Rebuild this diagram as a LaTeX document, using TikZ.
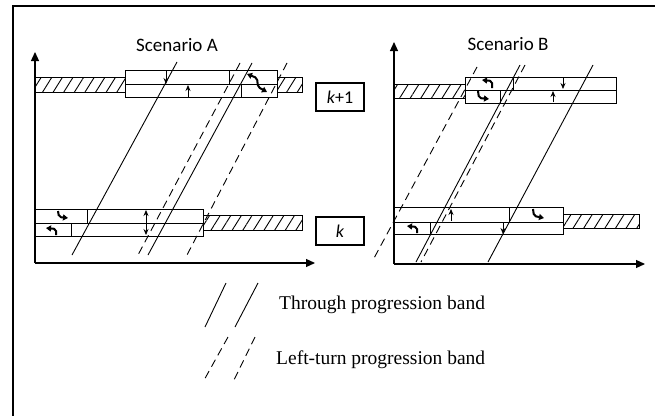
\documentclass[tikz,border=0pt]{standalone}
\usepackage{fontspec}
\setmainfont{Liberation Serif}
\newfontfamily\calibri{Carlito}
\usetikzlibrary{arrows.meta,patterns.meta}
\tikzset{
    lane/.style={draw, line width=1pt},
    hatch/.style={draw, line width=1pt, pattern={Lines[angle=58,distance=9pt,line width=0.9pt]}},
    thru/.style={line width=0.9pt},
    leftband/.style={line width=0.9pt, dash pattern=on 8pt off 5pt},
    flow/.style={line width=0.8pt, -{Stealth[length=6pt,width=5pt]}},
    turn/.style={line width=2pt, rounded corners=2pt, -{Triangle[length=5pt,width=6pt]}},
    axis/.style={line width=1.2pt, -{Triangle[length=9pt,width=8pt]}}
}

\begin{document}
\begin{tikzpicture}[x=1pt,y=-1pt,
        title/.style={font=\calibri\fontsize{19}{22}\selectfont},
        period/.style={draw, line width=1.2pt, minimum width=48pt, minimum height=28pt, inner sep=0pt, font=\calibri\fontsize{18}{20}\selectfont},
        legend/.style={anchor=west, inner sep=0pt, font=\fontsize{19.5}{22}\selectfont}
    ]
    \useasboundingbox (0,0) rectangle (655,415);
    % --- frame ---
    \draw[line width=2pt] (13,430) -- (13,6) -- (670,6);

    % --- titles and intersection labels ---
    \node[title] (titleA) at (177,45) {Scenario A};
    \node[title] (titleB) at (508,44) {Scenario B};
    \node[period] (kup) at (340,97) {\itshape k\upshape+1};
    \node[period] (klow) at (340,231) {\itshape k};

    % ===== Scenario A =====
    \draw[axis] (35,263) -- (35,52);
    \draw[axis] (35,263) -- (315,263);
    % intersection k+1
    \draw[hatch] (35,77) rectangle (125,92);
    \draw[hatch] (277,77) rectangle (302,92);
    \draw[lane] (125,70) rectangle (277,97);
    \draw[lane] (125,84) -- (277,84);
    \draw[lane] (229,70) -- (229,84);
    \draw[lane] (241,84) -- (241,97);
    \draw[flow] (166,71) -- (166,84);
    \draw[flow] (188,97) -- (188,85);
    \draw[turn, {Triangle[length=5pt,width=6pt]}-{Triangle[length=5pt,width=6pt]}] (247,74) -- (257,78) -- (258,87) -- (267,92);
    % intersection k
    \draw[hatch] (203,215) rectangle (302,230);
    \draw[lane] (35,209) rectangle (203,236);
    \draw[lane] (35,223) -- (203,223);
    \draw[lane] (87,209) -- (87,223);
    \draw[lane] (71,223) -- (71,236);
    \draw[line width=0.8pt, {Stealth[length=6pt,width=5pt]}-{Stealth[length=6pt,width=5pt]}] (146,210) -- (146,235);
    \draw[turn] (58,211) -- (59,217) -- (68,218);
    \draw[turn] (56,235) -- (56,229) -- (46,228);
    % progression bands
    \draw[thru] (177,62) -- (72,255);
    \draw[thru] (252,63) -- (148,255);
    \draw[leftband] (240,63) -- (138,255);
    \draw[leftband] (287,63) -- (187,255);

    % ===== Scenario B =====
    \draw[axis] (394,264) -- (394,42);
    \draw[axis] (394,264) -- (645,264);
    % intersection k+1
    \draw[hatch] (394,84) rectangle (465,98);
    \draw[lane] (465,77) rectangle (616,103);
    \draw[lane] (465,90) -- (616,90);
    \draw[lane] (513,77) -- (513,90);
    \draw[lane] (500,90) -- (500,103);
    \draw[flow] (563,78) -- (563,89);
    \draw[flow] (553,102) -- (553,91);
    \draw[turn] (492,88) -- (492,81) -- (482,80);
    \draw[turn] (478,91) -- (479,98) -- (489,99);
    % intersection k
    \draw[hatch] (563,214) rectangle (639,228);
    \draw[lane] (394,207) rectangle (563,234);
    \draw[lane] (394,222) -- (563,222);
    \draw[lane] (509,207) -- (509,222);
    \draw[lane] (430,222) -- (430,234);
    \draw[flow] (451,221) -- (451,209);
    \draw[flow] (503,222) -- (503,234);
    \draw[turn] (533,209) -- (534,216) -- (544,218);
    \draw[turn] (417,233) -- (417,227) -- (407,226);
    % progression bands
    \draw[leftband] (477,67) -- (373,260);
    \draw[thru] (520,65) -- (416,262);
    \draw[leftband] (525,65) -- (421,262);
    \draw[thru] (593,65) -- (488,262);

    % --- legend ---
    \draw[thru] (226,283) -- (205,327);
    \draw[thru] (258,283) -- (235,327);
    \draw[leftband] (228,337) -- (203,382);
    \draw[leftband] (255,337) -- (233,382);
    \node[legend] (thruText) at (279,305) {Through progression band};
    \node[legend] (leftText) at (276,360) {Left-turn progression band};
\end{tikzpicture}
\end{document}
